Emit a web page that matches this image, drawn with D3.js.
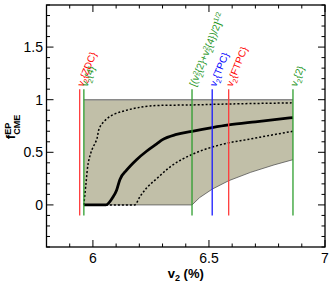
<!DOCTYPE html>
<html>
<head>
<meta charset="utf-8">
<script src="https://cdn.jsdelivr.net/npm/d3@7"></script>
<style>
  body { margin: 0; background: #fff; }
  text { font-family: "Liberation Sans", Arial, sans-serif; }
</style>
</head>
<body>
<div id="chart"></div>
<script>
// band (allowed region): upper edge = 1, lower edge below
var bandX = [5.961, 6.427, 6.46, 6.514, 6.585, 6.68, 6.78, 6.862];
var bandLow = [0, 0, 0.07, 0.15, 0.23, 0.31, 0.38, 0.43];
var bandHigh = 1;

// central (solid) curve
var midX = [5.961, 6.056, 6.085, 6.102, 6.116, 6.145, 6.188, 6.231, 6.275, 6.30, 6.36, 6.427, 6.514, 6.585, 6.70, 6.862];
var midY = [0, 0, 0.07, 0.14, 0.24, 0.33, 0.43, 0.51, 0.58, 0.62, 0.67, 0.70, 0.735, 0.76, 0.79, 0.83];

// upper dotted curve
var upX = [5.961, 5.97, 5.98, 5.995, 6.016, 6.03, 6.073, 6.145, 6.246, 6.427, 6.6, 6.862];
var upY = [0, 0.2, 0.4, 0.52, 0.62, 0.74, 0.84, 0.90, 0.94, 0.95, 0.96, 0.97];

// lower dotted curve
var loX = [6.056, 6.18, 6.203, 6.231, 6.275, 6.332, 6.427, 6.514, 6.585, 6.662, 6.76, 6.862];
var loY = [0, 0, 0.08, 0.16, 0.25, 0.36, 0.48, 0.55, 0.59, 0.62, 0.66, 0.70];

// vertical reference lines
var refX = [5.943, 5.961, 6.427, 6.514, 6.585, 6.862];
var refColor = ["#ff3b3b", "#2e9e2e", "#2e9e2e", "#1a1aff", "#ff3b3b", "#2e9e2e"];
var refLabel = ["ZDC", "4", "mean", "TPC", "FTPC", "2"];

var xTicks = [6, 6.5, 7];
var yTicks = [0, 0.5, 1, 1.5];

var W = 332, H = 287;
var m = { left: 46.5, right: 7, top: 5, bottom: 40 };

var svg = d3.select("#chart").append("svg")
  .attr("width", W).attr("height", H);

var x = d3.scaleLinear().domain([5.8, 7]).range([m.left, W - m.right]);
var y = d3.scaleLinear().domain([-0.4, 1.9]).range([H - m.bottom, m.top]);

// band
var bandData = bandX.map(function(d, i) { return [d, bandLow[i]]; });
var area = d3.area()
  .x(function(d) { return x(d[0]); })
  .y0(function(d) { return y(d[1]); })
  .y1(function() { return y(bandHigh); });
svg.append("path").datum(bandData)
  .attr("d", area)
  .attr("fill", "#c1bfa8");

var line = d3.line()
  .x(function(d) { return x(d[0]); })
  .y(function(d) { return y(d[1]); });

svg.append("path").datum(bandData)
  .attr("d", line).attr("fill", "none")
  .attr("stroke", "#555").attr("stroke-width", 0.8);
svg.append("path")
  .datum([[bandX[0], bandHigh], [bandX[bandX.length - 1], bandHigh]])
  .attr("d", line).attr("fill", "none")
  .attr("stroke", "#8a8a8a").attr("stroke-width", 1.5);

// curves
var curve = d3.line()
  .x(function(d) { return x(d[0]); })
  .y(function(d) { return y(d[1]); })
  .curve(d3.curveMonotoneX);
var curveUp = d3.line()
  .x(function(d) { return x(d[0]); })
  .y(function(d) { return y(d[1]); })
  .curve(d3.curveCatmullRom);

function pairs(xs, ys) { return xs.map(function(d, i) { return [d, ys[i]]; }); }

svg.append("path").datum(pairs(upX, upY))
  .attr("d", curveUp).attr("fill", "none")
  .attr("stroke", "#000").attr("stroke-width", 1.5).attr("stroke-dasharray", "2,2");
svg.append("path").datum(pairs(loX, loY))
  .attr("d", curve).attr("fill", "none")
  .attr("stroke", "#000").attr("stroke-width", 1.5).attr("stroke-dasharray", "2,2");
svg.append("path").datum(pairs(midX, midY))
  .attr("d", curve).attr("fill", "none")
  .attr("stroke", "#000").attr("stroke-width", 2.8);

// vertical lines
svg.selectAll(".ref").data(refX).enter().append("line")
  .attr("x1", function(d) { return x(d); })
  .attr("x2", function(d) { return x(d); })
  .attr("y1", y(-0.1)).attr("y2", y(1.1))
  .attr("stroke", function(d, i) { return refColor[i]; })
  .attr("stroke-width", 1.3);

// labels
var labCol = ["#ff0000", "#1e961e", "#1e961e", "#0000ff", "#ff0000", "#1e961e"];
refX.forEach(function(d, i) {
  var t = svg.append("text")
    .attr("transform", "translate(" + (x(d) + 3.5) + "," + (y(1.1) - 2) + ") rotate(-68)")
    .attr("fill", labCol[i]).style("font-size", "10px");
  if (refLabel[i] === "mean") {
    t.append("tspan").text("[(v");
    t.append("tspan").attr("dy", -3).style("font-size", "7px").text("2");
    t.append("tspan").attr("dx", -4).attr("dy", 6).style("font-size", "7px").text("2");
    t.append("tspan").attr("dy", -3).text("{2}+v");
    t.append("tspan").attr("dy", -3).style("font-size", "7px").text("2");
    t.append("tspan").attr("dx", -4).attr("dy", 6).style("font-size", "7px").text("2");
    t.append("tspan").attr("dy", -3).text("{4})/2]");
    t.append("tspan").attr("dy", -4).style("font-size", "7px").text("1/2");
  } else {
    t.append("tspan").text("v");
    t.append("tspan").attr("dy", 3).style("font-size", "7px").text("2");
    t.append("tspan").attr("dy", -3).text("{" + refLabel[i] + "}");
  }
});

// frame & ticks
var x0 = x.range()[0], x1 = x.range()[1], y0 = y.range()[0], y1 = y.range()[1];
svg.append("rect").attr("x", x0).attr("y", y1)
  .attr("width", x1 - x0).attr("height", y0 - y1)
  .attr("fill", "none").attr("stroke", "#000").attr("stroke-width", 1.3);

var xMinor = d3.range(58, 71).map(function(d) { return d / 10; });
var yMinor = d3.range(-4, 20).map(function(d) { return d / 10; });
function isMajor(v) { return Math.abs(v * 2 - Math.round(v * 2)) < 1e-6; }

xMinor.forEach(function(v) {
  var L = isMajor(v) ? 7 : 3.5;
  var px = x(v);
  svg.append("line").attr("x1", px).attr("x2", px).attr("y1", y0).attr("y2", y0 - L)
    .attr("stroke", "#000").attr("stroke-width", 1);
  svg.append("line").attr("x1", px).attr("x2", px).attr("y1", y1).attr("y2", y1 + L)
    .attr("stroke", "#000").attr("stroke-width", 1);
});
yMinor.forEach(function(v) {
  var L = isMajor(v) ? 7 : 3.5;
  var py = y(v);
  svg.append("line").attr("x1", x0).attr("x2", x0 + L).attr("y1", py).attr("y2", py)
    .attr("stroke", "#000").attr("stroke-width", 1);
  svg.append("line").attr("x1", x1).attr("x2", x1 - L).attr("y1", py).attr("y2", py)
    .attr("stroke", "#000").attr("stroke-width", 1);
});

svg.selectAll(".xl").data(xTicks).enter().append("text")
  .attr("x", function(d) { return x(d); }).attr("y", y0 + 16)
  .attr("text-anchor", "middle").style("font-size", "14px")
  .text(function(d) { return d; });
svg.selectAll(".yl").data(yTicks).enter().append("text")
  .attr("x", x0 - 3.5).attr("y", function(d) { return y(d) + 5; })
  .attr("text-anchor", "end").style("font-size", "14px")
  .text(function(d) { return d; });

// axis titles
var xt = svg.append("text").attr("x", (x0 + x1) / 2).attr("y", 278)
  .attr("text-anchor", "middle").style("font-size", "13px").style("font-weight", "bold");
xt.append("tspan").text("v");
xt.append("tspan").attr("dy", 3).style("font-size", "9px").text("2");
xt.append("tspan").attr("dy", -3).text("  (%)");

var yt = svg.append("text").attr("transform", "translate(15," + 127 + ") rotate(-90)")
  .attr("text-anchor", "middle").style("font-size", "13px").style("font-weight", "bold");
yt.append("tspan").text("f");
yt.append("tspan").attr("dy", -4).style("font-size", "9px").text("EP");
yt.append("tspan").attr("dx", -12).attr("dy", 9).style("font-size", "9px").text("CME");
</script>
</body>
</html>
